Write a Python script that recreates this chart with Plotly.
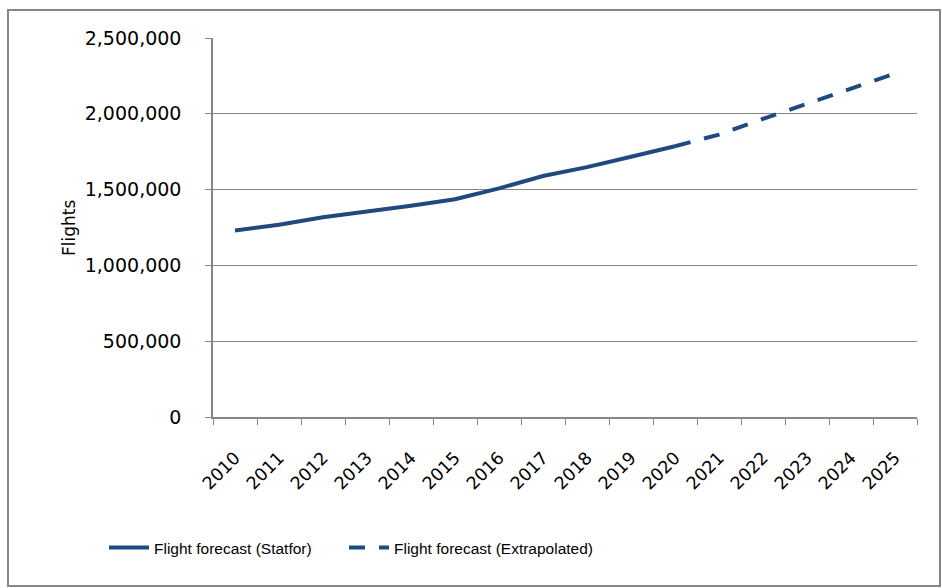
import plotly.graph_objects as go

years = [str(y) for y in range(2010, 2026)]
statfor_years = years[:11]
statfor_values = [1230000, 1268000, 1318000, 1354000, 1393000, 1436000, 1508000,
                  1590000, 1648000, 1717000, 1786000]
extrap_years = years[10:]
extrap_values = [1786000, 1863000, 1966000, 2065000, 2163000, 2266000]

y_ticks = [0, 500000, 1000000, 1500000, 2000000, 2500000]

W, H = 942, 588
L, R, T, B = 213, 917, 38, 417
pw, ph = R - L, B - T

def px(x):
    return (x - L) / pw

def py(y):
    return (B - y) / ph

color = "#1F4A7F"
legend_font = dict(family="Liberation Sans, Arial", size=15.5, color="#000")

fig = go.Figure()
fig.add_trace(go.Scatter(x=statfor_years, y=statfor_values, mode="lines",
                         name="Flight forecast (Statfor)", legend="legend",
                         line=dict(color=color, width=4)))
fig.add_trace(go.Scatter(x=extrap_years, y=extrap_values, mode="lines",
                         name="Flight forecast (Extrapolated)", legend="legend2",
                         line=dict(color=color, width=4, dash="16px,14px")))

fig.update_layout(
    width=W, height=H,
    margin=dict(l=L, r=W - R, t=T, b=H - B, autoexpand=False),
    paper_bgcolor="white", plot_bgcolor="white",
    showlegend=True,
    legend=dict(orientation="h", x=px(104), xanchor="left", y=py(548), yanchor="middle",
                font=legend_font, itemwidth=40, bgcolor="rgba(0,0,0,0)"),
    legend2=dict(orientation="h", x=px(344), xanchor="left", y=py(548), yanchor="middle",
                 font=legend_font, itemwidth=40, bgcolor="rgba(0,0,0,0)"),
    xaxis=dict(type="category", categoryorder="array", categoryarray=years,
               range=[-0.5, 15.5], tickson="boundaries", ticks="outside", ticklen=6,
               tickcolor="#868686", showline=True, linecolor="#868686", linewidth=1.5,
               showgrid=False, tickangle=-45, ticklabelstandoff=22,
               tickfont=dict(family="DejaVu Sans", size=17.5, color="#000"),
               fixedrange=True),
    yaxis=dict(range=[0, 2500000], tickvals=y_ticks, tickformat=",d",
               ticks="outside", ticklen=6, tickcolor="#868686",
               showline=True, linecolor="#868686", linewidth=1.5,
               showgrid=True, gridcolor="#868686", gridwidth=1, zeroline=False,
               ticklabelstandoff=20,
               tickfont=dict(family="DejaVu Sans", size=19, color="#000"),
               fixedrange=True),
    annotations=[dict(text="Flights", xref="paper", yref="paper", x=px(57), y=py(228),
                      textangle=-90, showarrow=False,
                      font=dict(family="DejaVu Sans", size=17, color="#000"))],
    shapes=[dict(type="rect", xref="paper", yref="paper",
                 x0=px(8), x1=px(940), y0=py(586), y1=py(10),
                 line=dict(color="#868686", width=2), fillcolor="rgba(0,0,0,0)",
                 layer="below")],
)

fig.write_html("out.html")
